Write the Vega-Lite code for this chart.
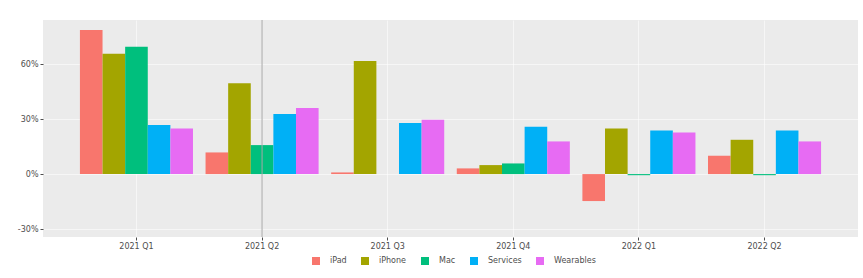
{
  "$schema": "https://vega.github.io/schema/vega-lite/v6.json",
  "width": 815,
  "height": 217,
  "autosize": {"type": "none"},
  "padding": {"left": 43, "top": 20, "right": 5, "bottom": 41},
  "background": "white",
  "config": {
    "font": "DejaVu Sans",
    "view": {"fill": "#EBEBEB", "stroke": null},
    "axis": {
      "domain": false,
      "labelFont": "DejaVu Sans",
      "labelFontSize": 8,
      "labelColor": "#4d4d4d",
      "tickColor": "#4d4d4d",
      "tickSize": 3,
      "labelPadding": 2,
      "gridColor": "#ffffff",
      "gridOpacity": 0.55,
      "gridWidth": 1,
      "title": null
    },
    "legend": {
      "labelFont": "DejaVu Sans",
      "labelFontSize": 8,
      "labelColor": "#4d4d4d"
    }
  },
  "layer": [
    {
      "data": {
        "values": [
          {"quarter": "2021 Q1", "product": "iPad", "growth": 0.785},
          {"quarter": "2021 Q1", "product": "iPhone", "growth": 0.656},
          {"quarter": "2021 Q1", "product": "Mac", "growth": 0.694},
          {"quarter": "2021 Q1", "product": "Services", "growth": 0.267},
          {"quarter": "2021 Q1", "product": "Wearables", "growth": 0.249},
          {"quarter": "2021 Q2", "product": "iPad", "growth": 0.118},
          {"quarter": "2021 Q2", "product": "iPhone", "growth": 0.495},
          {"quarter": "2021 Q2", "product": "Mac", "growth": 0.158},
          {"quarter": "2021 Q2", "product": "Services", "growth": 0.327},
          {"quarter": "2021 Q2", "product": "Wearables", "growth": 0.36},
          {"quarter": "2021 Q3", "product": "iPad", "growth": 0.009},
          {"quarter": "2021 Q3", "product": "iPhone", "growth": 0.616},
          {"quarter": "2021 Q3", "product": "Services", "growth": 0.278},
          {"quarter": "2021 Q3", "product": "Wearables", "growth": 0.296},
          {"quarter": "2021 Q4", "product": "iPad", "growth": 0.031},
          {"quarter": "2021 Q4", "product": "iPhone", "growth": 0.049},
          {"quarter": "2021 Q4", "product": "Mac", "growth": 0.058},
          {"quarter": "2021 Q4", "product": "Services", "growth": 0.258},
          {"quarter": "2021 Q4", "product": "Wearables", "growth": 0.178},
          {"quarter": "2022 Q1", "product": "iPad", "growth": -0.147},
          {"quarter": "2022 Q1", "product": "iPhone", "growth": 0.249},
          {"quarter": "2022 Q1", "product": "Mac", "growth": -0.006},
          {"quarter": "2022 Q1", "product": "Services", "growth": 0.238},
          {"quarter": "2022 Q1", "product": "Wearables", "growth": 0.227},
          {"quarter": "2022 Q2", "product": "iPad", "growth": 0.1},
          {"quarter": "2022 Q2", "product": "iPhone", "growth": 0.187},
          {"quarter": "2022 Q2", "product": "Mac", "growth": -0.006},
          {"quarter": "2022 Q2", "product": "Services", "growth": 0.238},
          {"quarter": "2022 Q2", "product": "Wearables", "growth": 0.178}
        ]
      },
      "mark": {"type": "bar"},
      "encoding": {
        "x": {
          "field": "quarter",
          "type": "nominal",
          "sort": null,
          "scale": {"paddingInner": 0.1, "paddingOuter": 0.294},
          "axis": {"labelAngle": 0, "grid": true}
        },
        "xOffset": {
          "field": "product",
          "type": "nominal",
          "sort": ["iPad", "iPhone", "Mac", "Services", "Wearables"],
          "scale": {"paddingInner": 0, "paddingOuter": 0}
        },
        "y": {
          "field": "growth",
          "type": "quantitative",
          "scale": {"domain": [-0.343, 0.84], "nice": false, "zero": false},
          "axis": {
            "values": [-0.3, 0, 0.3, 0.6],
            "format": ".0%",
            "labelExpr": "replace(datum.label, '\u2212', '-')",
            "grid": true
          }
        },
        "color": {
          "field": "product",
          "type": "nominal",
          "sort": ["iPad", "iPhone", "Mac", "Services", "Wearables"],
          "scale": {
            "domain": ["iPad", "iPhone", "Mac", "Services", "Wearables"],
            "range": ["#F8766D", "#A3A500", "#00BF7D", "#00B0F6", "#E76BF3"]
          },
          "legend": {
            "title": null,
            "orient": "none",
            "direction": "horizontal",
            "legendX": 269,
            "legendY": 237,
            "symbolType": "square",
            "symbolSize": 64,
            "symbolStrokeWidth": 0,
            "labelOffset": 10,
            "columnPadding": 14
          }
        }
      }
    },
    {
      "data": {"values": [{"quarter": "2021 Q2"}]},
      "mark": {"type": "rule", "color": "#a6a6a6", "strokeWidth": 1},
      "encoding": {
        "x": {"field": "quarter", "type": "nominal", "sort": null}
      }
    }
  ]
}
